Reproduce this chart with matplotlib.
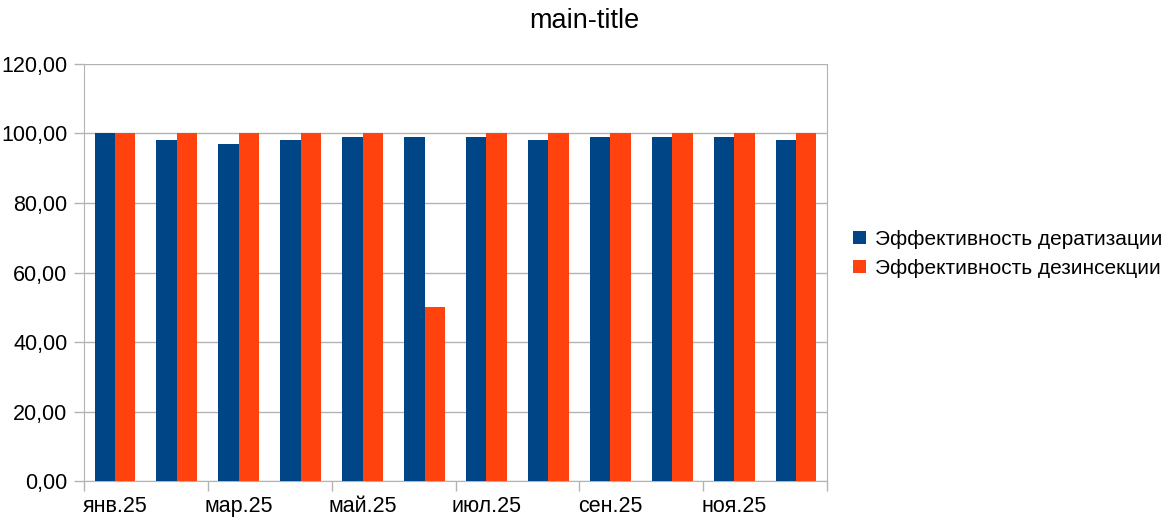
import matplotlib
matplotlib.use("Agg")
import matplotlib.pyplot as plt
import numpy as np

plt.rcParams['font.family'] = ['Liberation Sans', 'DejaVu Sans']

months = ["янв.25", "фев.25", "мар.25", "апр.25", "май.25", "июн.25",
          "июл.25", "авг.25", "сен.25", "окт.25", "ноя.25", "дек.25"]
derat = [100, 98, 97, 98, 99, 99, 99, 98, 99, 99, 99, 98]
dezins = [100, 100, 100, 100, 100, 50, 100, 100, 100, 100, 100, 100]

fig = plt.figure(figsize=(11.69, 5.19), dpi=100)
ax = fig.add_axes([0.0719, 0.0732, 0.6355, 0.8035])

x = np.arange(len(months))
w = 0.33
ax.bar(x - w/2, derat, w, color="#004586", label="Эффективность дератизации", zorder=3)
ax.bar(x + w/2, dezins, w, color="#ff420e", label="Эффективность дезинсекции", zorder=3)

ax.set_xlim(-0.5, len(months) - 0.5)
ax.set_ylim(0, 120)
ax.set_yticks(np.arange(0, 121, 20))
ax.set_yticklabels([f"{v:.2f}".replace(".", ",") for v in np.arange(0, 121, 20)])
ax.yaxis.grid(True, color="#b3b3b3", linewidth=1, zorder=0)

ax.set_xticks(np.arange(-0.5, len(months), 2))
ax.set_xticklabels([])
ax.set_xticks(x[::2], minor=True)
ax.set_xticklabels(months[::2], minor=True)
ax.tick_params(axis="x", which="major", length=7, color="#b3b3b3", width=1)
ax.tick_params(axis="x", which="minor", length=0, labelsize=15.5, pad=11)
ax.tick_params(axis="y", length=7, color="#b3b3b3", width=1, labelsize=15.5, pad=5)

for s in ["left", "bottom", "right"]:
    ax.spines[s].set_color("#b3b3b3")
ax.spines["top"].set_visible(False)

fig.suptitle("main-title", fontsize=19.5, x=0.5, y=0.985)

ax.legend(loc="center left", bbox_to_anchor=(1.01, 0.545), frameon=False,
          fontsize=15, handlelength=0.6, handleheight=0.6, handletextpad=0.45,
          labelspacing=0.5)

fig.savefig("out.png", dpi=100)
